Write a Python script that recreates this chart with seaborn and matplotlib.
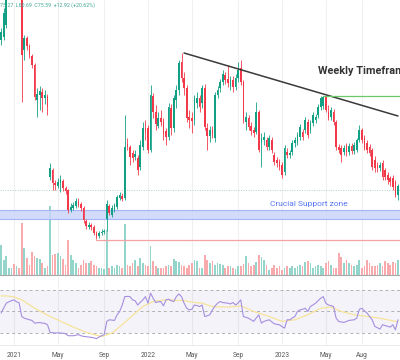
import matplotlib
matplotlib.use("Agg")
import matplotlib.pyplot as plt
import matplotlib.dates as mdates
import numpy as np
import pandas as pd
import seaborn as sns

sns.set_theme(style="white")
plt.rcParams['font.family'] = ['Roboto', 'DejaVu Sans']

# weekly candles, first bar = week of 2020-11-30
first_week = "2020-11-30"

opens = [224, 227, 239, 272, 289, 304, 294, 309, 284, 214,
         226, 218, 208, 199, 164, 169, 172, 166, 168, 87,
         94, 81, 78, 81, 83, 76, 74, 54, 56, 58,
         62, 60, 56, 43, 37, 39, 37, 31, 28, 31,
         32, 45, 58, 49, 54, 57, 66, 68, 66, 120,
         117, 111, 107, 106, 97, 117, 136, 136, 114, 168,
         152, 138, 146, 143, 133, 127, 156, 136, 164, 174,
         202, 186, 176, 147, 146, 144, 161, 166, 161, 176,
         136, 128, 134, 126, 169, 176, 182, 189, 185, 178,
         184, 177, 186, 196, 182, 142, 146, 138, 134, 132,
         152, 121, 124, 124, 117, 124, 109, 104, 102, 99,
         92, 112, 109, 112, 121, 122, 127, 132, 134, 142,
         134, 141, 144, 149, 157, 158, 167, 152, 147, 152,
         142, 117, 116, 112, 118, 112, 118, 113, 114, 124,
         134, 126, 121, 117, 114, 104, 99, 96, 101, 94,
         89, 86, 86, 82, 69]

closes = [232, 251, 272, 289, 304, 294, 309, 284, 209, 226,
          218, 209, 199, 167, 170, 173, 166, 169, 157, 96,
          81, 79, 82, 84, 76, 73, 54, 57, 59, 63,
          59, 56, 44, 38, 39, 37, 31, 27, 31, 32,
          33, 60, 51, 56, 59, 67, 69, 65, 117, 117,
          107, 106, 110, 94, 119, 136, 131, 114, 169, 152,
          140, 146, 142, 129, 127, 157, 136, 166, 174, 201,
          186, 176, 146, 144, 143, 166, 166, 157, 176, 137,
          128, 134, 130, 169, 174, 182, 190, 184, 181, 184,
          177, 186, 194, 182, 144, 147, 137, 133, 131, 152,
          114, 126, 127, 117, 126, 114, 102, 101, 97, 89,
          116, 109, 111, 121, 124, 129, 137, 127, 144, 129,
          141, 149, 147, 157, 166, 167, 154, 146, 154, 142,
          117, 114, 109, 116, 112, 118, 113, 119, 124, 134,
          124, 116, 114, 111, 97, 96, 96, 99, 87, 87,
          84, 82, 77, 69, 78]

highs = [236, 256, 276, 299, 314, 319, 319, 314, 286, 229,
         228, 220, 210, 201, 176, 178, 176, 174, 170, 101,
         96, 84, 86, 89, 85, 78, 75, 61, 62, 66,
         66, 62, 58, 45, 42, 41, 39, 33, 33, 35,
         35, 64, 60, 59, 61, 69, 72, 71, 149, 126,
         119, 114, 114, 109, 124, 142, 144, 139, 179, 171,
         159, 152, 154, 146, 136, 161, 160, 169, 179, 204,
         211, 192, 179, 154, 152, 169, 172, 169, 179, 180,
         141, 138, 138, 172, 178, 185, 194, 192, 199, 188,
         188, 190, 202, 204, 184, 152, 149, 142, 137, 162,
         154, 131, 132, 127, 129, 127, 112, 107, 105, 102,
         119, 116, 114, 124, 127, 132, 140, 135, 147, 145,
         144, 152, 150, 160, 168, 168, 169, 159, 157, 155,
         144, 120, 119, 119, 121, 121, 121, 122, 126, 139,
         136, 129, 124, 120, 116, 108, 102, 102, 104, 96,
         92, 88, 89, 84, 80]

lows = [219, 224, 236, 269, 284, 289, 289, 279, 162, 204,
        214, 206, 196, 164, 147, 154, 152, 160, 149, 84,
        74, 74, 76, 72, 73, 70, 51, 52, 54, 56,
        57, 53, 41, 35, 35, 34, 29, 25, 26, 29,
        30, 33, 49, 47, 52, 55, 64, 63, 64, 114,
        99, 102, 104, 89, 94, 114, 124, 111, 112, 146,
        134, 136, 138, 124, 119, 124, 129, 132, 156, 169,
        182, 169, 142, 136, 131, 139, 156, 152, 156, 134,
        114, 122, 126, 122, 166, 172, 179, 180, 177, 174,
        172, 174, 182, 179, 141, 134, 134, 129, 127, 130,
        112, 97, 119, 114, 114, 111, 99, 97, 94, 86,
        89, 106, 106, 109, 117, 119, 124, 124, 131, 126,
        131, 138, 141, 146, 154, 155, 152, 144, 144, 139,
        114, 111, 102, 109, 108, 109, 110, 110, 112, 122,
        121, 114, 111, 108, 94, 92, 92, 93, 84, 84,
        80, 78, 74, 67, 64]

volumes = [30, 15, 19, 7, 7, 11, 9, 7, 52, 27,
           17, 10, 23, 19, 17, 16, 12, 7, 9, 69,
           20, 21, 22, 19, 16, 10, 35, 20, 15, 12,
           7, 10, 15, 12, 12, 14, 10, 9, 7, 7,
           6, 45, 7, 9, 7, 10, 9, 7, 51, 10,
           9, 12, 15, 9, 17, 12, 10, 9, 29, 14,
           9, 7, 7, 7, 9, 10, 9, 16, 14, 13,
           10, 9, 7, 10, 12, 15, 14, 7, 7, 20,
           15, 12, 14, 10, 12, 11, 10, 7, 9, 9,
           7, 6, 9, 9, 11, 19, 12, 9, 10, 13,
           20, 18, 15, 10, 5, 7, 10, 7, 9, 5,
           7, 9, 7, 9, 7, 9, 10, 9, 13, 14,
           12, 7, 9, 10, 9, 7, 12, 14, 10, 7,
           7, 22, 18, 12, 15, 12, 10, 9, 10, 15,
           7, 9, 15, 12, 9, 9, 10, 12, 9, 14,
           12, 10, 13, 12, 15]

rsi = [48.5, 53, 57.7, 59, 60, 60.8, 59, 58, 45.4, 43.8,
       43, 42.3, 41.7, 39.2, 39.5, 39.8, 39.2, 39, 37.7, 30.6,
       30.3, 30, 30.2, 30, 29.8, 29.4, 27.5, 27.5, 27.5, 28,
       28.5, 27.5, 26.9, 26.6, 26.3, 26, 25.5, 24.8, 26.3, 27.5,
       28.5, 40.8, 42.3, 42, 41.7, 46.9, 50, 56, 63.8, 64,
       63.8, 60.8, 60, 56, 58.5, 60.8, 63.8, 57.7, 67, 62.3,
       58.3, 59, 59.2, 55.2, 60.8, 61.4, 60, 59.2, 63.8, 66.3,
       63.8, 57.7, 53, 51.5, 52, 56, 55.5, 54.6, 56, 45.4,
       46, 47, 51.5, 55, 57.7, 59.2, 58.3, 58, 57.7, 57,
       58.3, 56, 58, 60.8, 45.4, 44.5, 43.8, 42.3, 40.8, 44,
       46.9, 39.2, 40.8, 41.5, 42.3, 40.5, 38.6, 38, 37.7, 36,
       34.6, 42.3, 42.3, 44, 45.4, 50, 51.5, 52, 53, 50,
       54.6, 56, 57.7, 60, 62.3, 63.8, 57.7, 56, 55.5, 54.6,
       43.8, 40.8, 40.3, 39.8, 40.8, 41.7, 42, 42.3, 43.8, 52,
       53, 50.5, 48.5, 45.4, 42.3, 36.2, 35, 33.7, 37.7, 37,
       36.2, 35.5, 37.7, 33, 42.3]

rsi_ma = [64.5, 64.5, 64.4, 64.2, 64, 63.4, 62.6, 61.7, 60.8, 59.3,
          57.8, 56.2, 54.6, 53, 51.7, 50.4, 49.1, 47.8, 46.6, 45.4,
          44.3, 43.2, 42.1, 41, 39.9, 38.8, 37.7, 36.6, 35.6, 34.6,
          33.6, 32.5, 31.5, 30.7, 30, 29.2, 28.5, 27.9, 27.4, 26.9,
          27.5, 28.3, 29.1, 30, 31.8, 33.8, 35.8, 37.7, 39.9, 42,
          44.2, 46.3, 48.5, 50.5, 52.6, 54.6, 55.8, 56.9, 58, 59.2,
          59.6, 59.9, 60.2, 60.5, 60.8, 60.8, 60.7, 60.6, 60.5, 60.3,
          60.2, 60, 59.6, 59.2, 58.7, 58.3, 58.1, 57.9, 57.7, 56.9,
          56.2, 55.4, 54.6, 54.5, 54.4, 54.3, 54.2, 54.1, 54, 54.2,
          54.5, 54.7, 55, 55.2, 54.2, 53.2, 52.1, 51, 50, 49.2,
          48.5, 47.7, 46.9, 46.2, 45.4, 44.5, 43.6, 42.7, 41.8, 40.8,
          41.1, 41.4, 41.7, 42, 42.3, 43.2, 44.2, 45.1, 46, 47,
          48.2, 49.4, 50.6, 51.8, 53, 53.3, 53.5, 53.8, 54, 53,
          52, 51, 50, 49.4, 48.8, 48.2, 47.6, 47, 46.7, 46.4,
          46, 45.7, 45.4, 45.1, 44.8, 44.4, 44.1, 43.8, 43.3, 42.8,
          42.3, 41.8, 41.3, 40.8, 40.5]

tick_dates = ["2021-01-04", "2021-05-03", "2021-09-06", "2022-01-03", "2022-05-02",
              "2022-09-05", "2023-01-02", "2023-05-01", "2023-08-07"]
tick_labels = ["2021", "May", "Sep", "2022", "May", "Sep", "2023", "May", "Aug"]

trend_dates = ["2022-04-11", "2023-11-13"]
trend_prices = [211, 148]
resistance_start, resistance = "2023-04-24", 168
low_start, low_level = "2021-08-16", 24
support_zone = (45, 54)
last_price = 74

df = pd.DataFrame({"open": opens, "high": highs, "low": lows,
                   "close": closes, "volume": volumes})
df["date"] = pd.date_range(first_week, periods=len(df), freq="7D")
x = mdates.date2num(df["date"])

UP, DOWN = "#12a085", "#f2394a"
UP_V, DOWN_V = "#93d5ca", "#f8aaad"
is_up = df["close"] >= df["open"]
cols = np.where(is_up, UP, DOWN)
vcols = np.where(is_up, UP_V, DOWN_V)

x0 = mdates.date2num(pd.Timestamp(first_week))
xlim = (x0 - 3.0, x0 + 1083.5)

fig = plt.figure(figsize=(4, 3.6), dpi=100)
rect = [0, 85 / 360, 1, 275 / 360]

# volume underneath
axv = fig.add_axes(rect)
axv.bar(x, df["volume"], width=4.6, color=vcols, linewidth=0)
axv.set_ylim(0, 275)
axv.set_xlim(xlim)
for d in tick_dates:
    axv.axvline(mdates.date2num(pd.Timestamp(d)), color="#f0f0f0", lw=0.8, zorder=0)
axv.axis("off")

# price candles
ax = fig.add_axes(rect)
ax.patch.set_alpha(0)
ax.vlines(x, df["low"], df["high"], colors=cols, lw=0.6)
body_lo = df[["open", "close"]].min(axis=1)
body_h = (df["close"] - df["open"]).abs().clip(lower=0.8)
ax.bar(x, body_h, bottom=body_lo, width=4.6, color=cols, linewidth=0)

ax.axhspan(*support_zone, color="#c9d3fb", alpha=0.8, zorder=0.5, lw=0)
ax.axhline(support_zone[0], color="#a5b5f6", lw=0.8, zorder=0.6)
ax.axhline(support_zone[1], color="#a5b5f6", lw=0.8, zorder=0.6)
ax.axhline(last_price, color="#b9cfc8", lw=0.7, ls=(0, (1, 1.5)), zorder=0.6)

td = mdates.date2num(pd.to_datetime(trend_dates))
ax.plot(td, trend_prices, color="#3a3a3a", lw=1.1)
ax.plot([mdates.date2num(pd.Timestamp(resistance_start)), xlim[1]],
        [resistance, resistance], color="#6cc86c", lw=0.9)
ax.plot([mdates.date2num(pd.Timestamp(low_start)), xlim[1]],
        [low_level, low_level], color="#f4a3a3", lw=0.9)

# label runs past the right edge, as in the source screenshot
ax.text(0.795, 0.742, "Weekly Timeframe", transform=ax.transAxes, fontsize=7.8,
        fontweight="bold", color="#333333", va="center", ha="left")
ax.text(0.675, 0.258, "Crucial Support zone", transform=ax.transAxes, fontsize=6,
        color="#5677f2", va="center", ha="left")

ax.set_xlim(xlim)
ax.set_ylim(-11, 264)
ax.set_xticks([])
ax.set_yticks([])
for s in ["top", "left", "right"]:
    ax.spines[s].set_visible(False)
ax.spines["bottom"].set_color("#a8a8a8")
ax.spines["bottom"].set_linewidth(0.8)

fig.text(0.0, 1 - 5 / 360, "75.27  L60.69  C75.59  +12.92 (+20.62%)",
         fontsize=3.8, color="#3fa796", va="center", ha="left")

# RSI panel
axr = fig.add_axes([0, 15 / 360, 1, 68 / 360])
rsi_df = pd.DataFrame({"date": df["date"], "RSI": rsi, "MA": rsi_ma})
axr.axhspan(30, 70, color="#7e57c2", alpha=0.07, lw=0)
for lvl in (70, 50, 30):
    axr.axhline(lvl, color="#b0b0b0", lw=0.7, ls=(0, (3, 3)))
for d in tick_dates:
    axr.axvline(mdates.date2num(pd.Timestamp(d)), color="#f0f0f0", lw=0.8, zorder=0)
sns.lineplot(data=rsi_df, x="date", y="MA", ax=axr, color="#f6e39a", lw=0.9)
sns.lineplot(data=rsi_df, x="date", y="RSI", ax=axr, color="#a58fdf", lw=0.8)
axr.set_xlim(xlim)
axr.set_ylim(18.9, 82)
axr.set_xlabel("")
axr.set_ylabel("")
axr.set_yticks([])
axr.set_xticks(mdates.date2num(pd.to_datetime(tick_dates)))
axr.set_xticklabels(tick_labels)
axr.tick_params(axis="x", length=0, pad=5, labelsize=4.8, colors="#555555")
for s in ["top", "left", "right"]:
    axr.spines[s].set_visible(False)
axr.spines["bottom"].set_color("#e6e6e6")
axr.spines["bottom"].set_linewidth(0.6)

fig.savefig("out.png", dpi=100)
